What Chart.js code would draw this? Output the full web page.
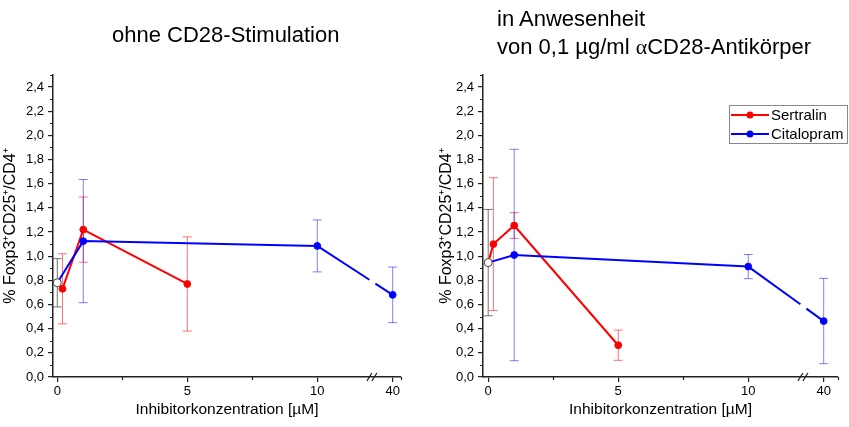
<!DOCTYPE html>
<html>
<head>
<meta charset="utf-8">
<script src="https://cdn.jsdelivr.net/npm/chart.js@4"></script>
<style>
  body { margin: 0; background: #fff; }
  #wrap { position: relative; width: 849px; height: 427px; font-family: "Liberation Sans", Arial, sans-serif; }
  .box { position: absolute; top: 0; height: 427px; }
  .heading { position: absolute; font-size: 22px; line-height: 28px; color: #000; white-space: nowrap; }
  .alpha { font-family: "Liberation Serif", serif; }
</style>
</head>
<body>
<div id="wrap">
  <div class="box" style="left:0; width:424px;"><canvas id="left" width="424" height="427"></canvas></div>
  <div class="box" style="left:430px; width:419px;"><canvas id="right" width="419" height="427"></canvas></div>
  <div class="heading" style="left:112px; top:21px;">ohne CD28-Stimulation</div>
  <div class="heading" style="left:497px; top:5px;">in Anwesenheit<br>von 0,1 µg/ml <span class="alpha">α</span>CD28-Antikörper</div>
</div>
<script>
// ticks
const xTickValues = [0, 5, 10, 12.9];
const xTickLabels = ['0', '5', '10', '40'];
const xMinorTicks = [2.5, 7.5];
const yTickValues = [0, 0.2, 0.4, 0.6, 0.8, 1.0, 1.2, 1.4, 1.6, 1.8, 2.0, 2.2, 2.4];
const yMinorTicks = [0.1, 0.3, 0.5, 0.7, 0.9, 1.1, 1.3, 1.5, 1.7, 1.9, 2.1, 2.3, 2.5];

// axis break: everything above 10 µM sits at the "40" position
const breakPos = 12.1, pos40 = 12.9;
function axisPos(c) { return c > 10 ? pos40 : c; }

// concentrations [µM]
const concSertralin = [0.2, 1, 5];
const concCitalopram = [1, 10, 40];

// ohne CD28-Stimulation
const controlNoCD28 = 0.78, controlNoCD28Err = 0.20;
const sertralinNoCD28 = [0.73, 1.22, 0.77];
const sertralinNoCD28Err = [0.29, 0.27, 0.39];
const citalopramNoCD28 = [1.125, 1.085, 0.68];
const citalopramNoCD28Err = [0.51, 0.215, 0.23];

// mit 0,1 µg/ml aCD28
const controlCD28 = 0.947, controlCD28Err = 0.44;
const sertralinCD28 = [1.10, 1.254, 0.263];
const sertralinCD28Err = [0.55, 0.107, 0.125];
const citalopramCD28 = [1.01, 0.914, 0.463];
const citalopramCD28Err = [0.875, 0.10, 0.353];

// gap in the line where it crosses the axis break
function gapDash(ctx) {
    const xs = ctx.chart.scales.x;
    const bx = xs.getPixelForValue(breakPos);
    const p0 = ctx.p0, p1 = ctx.p1;
    if (!(p0.x < bx && p1.x > bx)) return undefined;
    const dx = p1.x - p0.x;
    const len = Math.hypot(dx, p1.y - p0.y);
    const t0 = (bx - 2.5 - p0.x) / dx, t1 = (bx + 3.5 - p0.x) / dx;
    return [t0 * len, (t1 - t0) * len, len];
}

function series(label, color, errColor, conc, vals, errs, control, order) {
    return {
        label,
        order,
        inLegend: true,
        borderColor: color,
        backgroundColor: color,
        pointBackgroundColor: color,
        pointBorderColor: color,
        borderWidth: 2,
        pointBorderWidth: 1,
        pointRadius: ctx => ctx.dataIndex === 0 ? 0 : 3.4,
        data: [{ x: 0, y: control }].concat(conc.map((c, i) => ({ x: axisPos(c), y: vals[i] }))),
        errors: [null].concat(errs),
        errorColor: errColor,
        segment: { borderDash: gapDash }
    };
}

function controlSet(value, err) {
    return {
        label: 'Kontrolle',
        order: 1,
        showLine: false,
        data: [{ x: 0, y: value }],
        pointRadius: 4,
        pointBackgroundColor: '#fff',
        pointBorderColor: '#444',
        pointBorderWidth: 1,
        errors: [err],
        errorColor: 'rgba(70,70,70,0.75)'
    };
}

const errorBars = {
    id: 'errorBars',
    beforeDatasetsDraw(chart) {
        const ctx = chart.ctx, ys = chart.scales.y;
        ctx.save();
        ctx.lineWidth = 1;
        chart.data.datasets.forEach((ds, i) => {
            if (!ds.errors) return;
            const meta = chart.getDatasetMeta(i);
            ds.data.forEach((p, j) => {
                const e = ds.errors[j];
                if (e == null) return;
                const x = meta.data[j].x;
                const top = ys.getPixelForValue(p.y + e), bot = ys.getPixelForValue(p.y - e);
                ctx.strokeStyle = ds.errorColor;
                ctx.beginPath();
                ctx.moveTo(x, top); ctx.lineTo(x, bot);
                ctx.moveTo(x - 4.5, top); ctx.lineTo(x + 4.5, top);
                ctx.moveTo(x - 4.5, bot); ctx.lineTo(x + 4.5, bot);
                ctx.stroke();
            });
        });
        ctx.restore();
    }
};

const axisExtras = {
    id: 'axisExtras',
    afterDraw(chart) {
        const ctx = chart.ctx, xs = chart.scales.x, ys = chart.scales.y;
        const a = chart.chartArea;
        ctx.save();
        ctx.strokeStyle = '#222';
        ctx.lineWidth = 1.2;
        ctx.beginPath();
        xMinorTicks.concat([xs.max]).forEach(v => {
            const px = Math.round(xs.getPixelForValue(v)) + 0.5;
            ctx.moveTo(px, a.bottom); ctx.lineTo(px, a.bottom + 3);
        });
        yMinorTicks.forEach(v => {
            const py = Math.round(ys.getPixelForValue(v)) + 0.5;
            ctx.moveTo(a.left - 3, py); ctx.lineTo(a.left, py);
        });
        ctx.stroke();
        // break marks
        const bx = xs.getPixelForValue(breakPos);
        ctx.lineWidth = 1.3;
        ctx.beginPath();
        [-2.5, 2.5].forEach(o => {
            ctx.moveTo(bx + o - 2.5, a.bottom + 4);
            ctx.lineTo(bx + o + 2.5, a.bottom - 4);
        });
        ctx.stroke();
        ctx.restore();
    }
};

const boxLegend = {
    id: 'boxLegend',
    afterDraw(chart, args, opts) {
        if (!opts.show) return;
        const ctx = chart.ctx;
        ctx.save();
        ctx.strokeStyle = '#888';
        ctx.lineWidth = 1;
        ctx.strokeRect(opts.x + 0.5, opts.y + 0.5, opts.w, opts.h);
        ctx.font = '15px "Liberation Sans", Arial, sans-serif';
        ctx.textBaseline = 'middle';
        ctx.fillStyle = '#000';
        let row = 0;
        chart.data.datasets.forEach(ds => {
            if (!ds.inLegend) return;
            const y = opts.y + 10 + row * 19;
            ctx.strokeStyle = ds.borderColor;
            ctx.lineWidth = 2;
            ctx.beginPath();
            ctx.moveTo(opts.x + 2, y); ctx.lineTo(opts.x + 40, y);
            ctx.stroke();
            ctx.fillStyle = ds.borderColor;
            ctx.beginPath();
            ctx.arc(opts.x + 21, y, 3.5, 0, Math.PI * 2);
            ctx.fill();
            ctx.fillStyle = '#000';
            ctx.fillText(ds.label, opts.x + 42, y + 1);
            row++;
        });
        ctx.restore();
    }
};

function makeChart(id, datasets, xMin, xMax, padRight, yTitlePad, legend) {
    return new Chart(document.getElementById(id), {
        type: 'line',
        data: { datasets },
        options: {
            responsive: false,
            animation: false,
            events: [],
            layout: { padding: { top: 75, right: padRight, left: 0, bottom: 0 } },
            plugins: {
                legend: { display: false },
                tooltip: { enabled: false },
                boxLegend: legend
            },
            scales: {
                x: {
                    type: 'linear',
                    min: xMin,
                    max: xMax,
                    afterFit: s => { s.height = 50; },
                    afterBuildTicks: s => { s.ticks = xTickValues.map(v => ({ value: v })); },
                    ticks: {
                        autoSkip: false, maxRotation: 0, padding: 2, color: '#000',
                        font: { family: '"Liberation Sans", Arial, sans-serif', size: 13 },
                        callback: (v, i) => xTickLabels[i]
                    },
                    grid: { drawOnChartArea: false, tickLength: 5, tickColor: '#222', lineWidth: 1.2 },
                    border: { color: '#222', width: 1.5 },
                    title: {
                        display: true, text: 'Inhibitorkonzentration [µM]', color: '#000',
                        font: { family: '"Liberation Sans", Arial, sans-serif', size: 15.5 },
                        padding: { top: 0, bottom: 8 }
                    }
                },
                y: {
                    min: 0,
                    max: 2.5,
                    afterFit: s => { s.width = 53; },
                    afterBuildTicks: s => { s.ticks = yTickValues.map(v => ({ value: v })); },
                    ticks: {
                        padding: 4, color: '#000',
                        font: { family: '"Liberation Sans", Arial, sans-serif', size: 13 },
                        callback: v => v.toFixed(1).replace('.', ',')
                    },
                    grid: { drawOnChartArea: false, tickLength: 5, tickColor: '#222', lineWidth: 1.2 },
                    border: { color: '#222', width: 1.5 },
                    title: {
                        display: true, text: '% Foxp3\u207ACD25\u207A/CD4\u207A', color: '#000',
                        font: { family: '"Liberation Sans", Arial, sans-serif', size: 16 },
                        padding: { top: yTitlePad, bottom: 0 }
                    }
                }
            }
        },
        plugins: [errorBars, axisExtras, boxLegend]
    });
}

makeChart('left', [
    series('Sertralin', '#ff0000', 'rgba(255,0,0,0.55)', concSertralin, sertralinNoCD28, sertralinNoCD28Err, controlNoCD28, 3),
    series('Citalopram', '#0000ff', 'rgba(0,0,255,0.5)', concCitalopram, citalopramNoCD28, citalopramNoCD28Err, controlNoCD28, 2),
    controlSet(controlNoCD28, controlNoCD28Err)
], -0.165, 13.22, 23, 1, { show: false });

makeChart('right', [
    series('Sertralin', '#ff0000', 'rgba(255,0,0,0.55)', concSertralin, sertralinCD28, sertralinCD28Err, controlCD28, 3),
    series('Citalopram', '#0000ff', 'rgba(0,0,255,0.5)', concCitalopram, citalopramCD28, citalopramCD28Err, controlCD28, 2),
    controlSet(controlCD28, controlCD28Err)
], -0.2, 13.45, 11, 7, { show: true, x: 299, y: 105, w: 118, h: 38 });
</script>
</body>
</html>
